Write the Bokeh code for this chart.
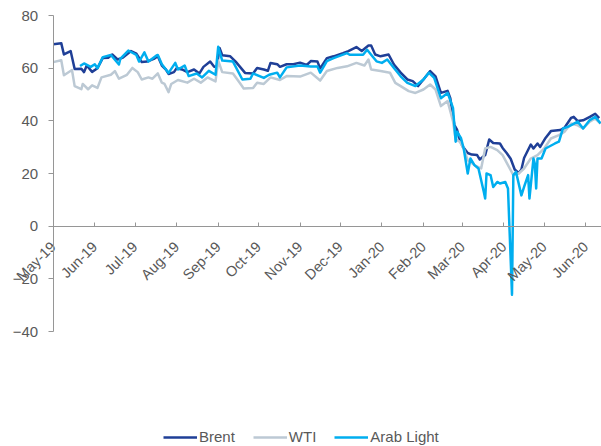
import pandas as pd
from math import pi
from bokeh.plotting import figure
from bokeh.models import (Range1d, FixedTicker, MonthsTicker, DatetimeTickFormatter,
                          Legend, LegendItem, ColumnDataSource)
from bokeh.embed import file_html
from bokeh.resources import INLINE

# --- Crude oil prices, USD/bbl ---
brent_dates = [
    "2019-05-01", "2019-05-07", "2019-05-09", "2019-05-14", "2019-05-17", "2019-05-22",
    "2019-05-24", "2019-05-26", "2019-05-30", "2019-06-03", "2019-06-07", "2019-06-11",
    "2019-06-14", "2019-06-18", "2019-06-22", "2019-06-28", "2019-07-02", "2019-07-06",
    "2019-07-10", "2019-07-15", "2019-07-18", "2019-07-21", "2019-07-24", "2019-07-26",
    "2019-07-30", "2019-08-01", "2019-08-05", "2019-08-09", "2019-08-14", "2019-08-18",
    "2019-08-21", "2019-08-26", "2019-08-29", "2019-08-31", "2019-09-02", "2019-09-04",
    "2019-09-10", "2019-09-14", "2019-09-21", "2019-09-27", "2019-09-30", "2019-10-05",
    "2019-10-08", "2019-10-10", "2019-10-15", "2019-10-17", "2019-10-22", "2019-10-27",
    "2019-11-01", "2019-11-06", "2019-11-09", "2019-11-14", "2019-11-16", "2019-11-21",
    "2019-11-26", "2019-12-03", "2019-12-07", "2019-12-13", "2019-12-17", "2019-12-22",
    "2019-12-24", "2019-12-27", "2019-12-31", "2020-01-06", "2020-01-10", "2020-01-15",
    "2020-01-20", "2020-01-24", "2020-01-28", "2020-02-01", "2020-02-06", "2020-02-10",
    "2020-02-14", "2020-02-19", "2020-02-21", "2020-02-24", "2020-02-26", "2020-02-28",
    "2020-03-01", "2020-03-05", "2020-03-08", "2020-03-12", "2020-03-14", "2020-03-18",
    "2020-03-21", "2020-03-24", "2020-03-29", "2020-03-31", "2020-04-03", "2020-04-06",
    "2020-04-09", "2020-04-12", "2020-04-14", "2020-04-16", "2020-04-21", "2020-04-23",
    "2020-04-26", "2020-04-28", "2020-05-02", "2020-05-06", "2020-05-13", "2020-05-16",
    "2020-05-21", "2020-05-23", "2020-05-26", "2020-05-30", "2020-06-04", "2020-06-08",
    "2020-06-11",
]
brent_values = [
    69.1, 69.5, 65.2, 66.5, 59.7, 59.8,
    58.5, 61.0, 58.6, 60.0, 63.9, 64.0,
    65.2, 63.3, 64.0, 66.5, 65.5, 62.3,
    62.5, 63.5, 64.5, 61.0, 59.5, 57.8,
    58.5, 60.0, 59.5, 58.5, 59.5, 58.0,
    60.5, 62.5, 60.5, 60.5, 67.7, 64.9,
    64.5, 62.5, 58.2, 58.0, 60.1, 59.5,
    59.0, 62.0, 61.5, 60.5, 61.5, 61.5,
    62.1, 61.2, 62.7, 62.5, 59.9, 63.8,
    64.5, 65.7, 66.5, 68.0, 66.5, 68.6,
    68.6, 65.2, 64.5, 65.2, 61.4, 58.3,
    55.7, 55.1, 53.2, 55.7, 58.9, 56.9,
    50.6, 51.4, 48.6, 38.5, 36.7, 32.9,
    30.4, 27.8, 27.2, 27.0, 25.3, 27.0,
    32.9, 31.6, 31.4, 29.7, 27.8, 25.6,
    21.5, 20.2, 21.5, 25.9, 31.0, 29.5,
    31.4, 30.1, 33.5, 36.1, 36.5, 37.3,
    41.1, 41.5, 39.9, 40.2, 41.5, 42.7,
    41.0,
]

wti_dates = [
    "2019-05-01", "2019-05-07", "2019-05-09", "2019-05-15", "2019-05-17", "2019-05-22",
    "2019-05-23", "2019-05-27", "2019-05-30", "2019-06-03", "2019-06-06", "2019-06-13",
    "2019-06-16", "2019-06-19", "2019-06-25", "2019-06-29", "2019-07-03", "2019-07-06",
    "2019-07-11", "2019-07-14", "2019-07-18", "2019-07-21", "2019-07-23", "2019-07-26",
    "2019-07-28", "2019-08-02", "2019-08-09", "2019-08-14", "2019-08-19", "2019-08-24",
    "2019-08-30", "2019-09-01", "2019-09-04", "2019-09-12", "2019-09-17", "2019-09-20",
    "2019-09-27", "2019-09-30", "2019-10-05", "2019-10-10", "2019-10-17", "2019-10-22",
    "2019-11-01", "2019-11-09", "2019-11-16", "2019-11-21", "2019-11-29", "2019-12-06",
    "2019-12-13", "2019-12-19", "2019-12-22", "2019-12-24", "2019-12-31", "2020-01-07",
    "2020-01-11", "2020-01-15", "2020-01-21", "2020-01-26", "2020-02-01", "2020-02-06",
    "2020-02-10", "2020-02-14", "2020-02-19", "2020-02-23", "2020-02-25", "2020-02-28",
    "2020-03-02", "2020-03-05", "2020-03-10", "2020-03-15", "2020-03-18", "2020-03-22",
    "2020-03-27", "2020-03-31", "2020-04-04", "2020-04-08", "2020-04-12", "2020-04-16",
    "2020-04-21", "2020-04-26", "2020-05-01", "2020-05-06", "2020-05-12", "2020-05-16",
    "2020-05-21", "2020-05-26", "2020-05-30", "2020-06-04", "2020-06-08", "2020-06-12",
]
wti_values = [
    62.3, 63.0, 57.3, 59.3, 53.2, 52.0,
    54.0, 52.0, 53.5, 52.5, 56.5, 57.5,
    58.9, 56.0, 57.5, 60.1, 58.5, 55.7,
    56.5, 56.0, 58.0, 54.5, 54.0, 50.9,
    54.0, 55.5, 54.5, 56.0, 54.5, 56.5,
    55.0, 62.9, 58.5, 58.0, 54.5, 52.3,
    52.5, 54.5, 54.0, 56.5, 55.5, 57.0,
    56.8, 58.3, 55.3, 58.9, 60.1, 60.7,
    62.0, 61.0, 63.3, 59.5, 58.9, 58.3,
    54.4, 53.2, 51.3, 50.6, 51.9, 53.8,
    51.9, 45.6, 47.5, 39.9, 32.9, 32.1,
    29.5, 25.0, 23.2, 21.9, 29.5, 30.1,
    28.9, 27.0, 23.2, 19.4, 20.0, 21.9,
    25.7, 27.0, 29.5, 33.3, 34.6, 35.8,
    39.0, 38.3, 37.1, 39.7, 40.9, 39.0,
]

arab_dates = [
    "2019-05-21", "2019-05-24", "2019-05-29", "2019-06-01", "2019-06-03", "2019-06-07",
    "2019-06-13", "2019-06-19", "2019-06-20", "2019-06-26", "2019-07-02", "2019-07-04",
    "2019-07-08", "2019-07-11", "2019-07-17", "2019-07-18", "2019-07-21", "2019-07-26",
    "2019-07-31", "2019-08-02", "2019-08-07", "2019-08-10", "2019-08-16", "2019-08-20",
    "2019-08-25", "2019-08-30", "2019-09-01", "2019-09-04", "2019-09-12", "2019-09-19",
    "2019-09-25", "2019-09-27", "2019-10-05", "2019-10-09", "2019-10-15", "2019-10-17",
    "2019-10-22", "2019-11-01", "2019-11-09", "2019-11-14", "2019-11-16", "2019-11-21",
    "2019-11-26", "2019-12-06", "2019-12-08", "2019-12-18", "2019-12-21", "2019-12-24",
    "2019-12-28", "2020-01-01", "2020-01-05", "2020-01-10", "2020-01-15", "2020-01-20",
    "2020-01-26", "2020-02-01", "2020-02-05", "2020-02-09", "2020-02-14", "2020-02-19",
    "2020-02-23", "2020-02-25", "2020-02-26", "2020-02-29", "2020-03-02", "2020-03-05",
    "2020-03-07", "2020-03-10", "2020-03-13", "2020-03-17", "2020-03-18", "2020-03-19",
    "2020-03-22", "2020-03-24", "2020-03-27", "2020-03-29", "2020-04-02", "2020-04-04",
    "2020-04-07", "2020-04-08", "2020-04-10", "2020-04-14", "2020-04-16", "2020-04-19",
    "2020-04-20", "2020-04-23", "2020-04-24", "2020-04-25", "2020-04-26", "2020-04-29",
    "2020-05-02", "2020-05-09", "2020-05-12", "2020-05-15", "2020-05-19", "2020-05-26",
    "2020-05-30", "2020-06-04", "2020-06-08", "2020-06-12",
]
arab_values = [
    60.8, 61.8, 60.5, 61.5, 60.0, 64.2,
    65.0, 61.4, 63.5, 66.7, 65.0, 62.5,
    66.0, 62.5, 64.8, 65.0, 61.5, 58.2,
    62.0, 59.5, 61.0, 57.0, 58.0, 56.5,
    59.0, 57.5, 68.1, 62.9, 62.5, 55.7,
    56.0, 58.0, 56.3, 57.5, 58.3, 56.5,
    60.3, 61.0, 60.6, 60.6, 58.3, 62.7,
    63.8, 65.7, 65.1, 65.1, 67.0, 65.1,
    62.6, 62.0, 63.3, 60.1, 56.9, 54.4,
    53.2, 55.7, 58.3, 56.3, 48.6, 50.6,
    44.9, 32.1, 35.9, 33.4, 29.5, 20.0,
    25.7, 23.2, 21.9, 13.0, 10.5, 20.0,
    19.4, 14.9, 16.8, 16.2, 16.8, 14.3,
    -26.0, 19.4, 20.6, 11.7, 14.9, 19.4,
    10.5, 25.7, 23.8, 14.3, 25.7, 25.7,
    29.5, 31.4, 32.1, 37.1, 37.8, 39.7,
    37.1, 40.3, 41.5, 39.0,
]

y_ticks = [-40, -20, 0, 20, 40, 60, 80]
series_names = ["Brent", "WTI", "Arab Light"]
series_colors = ["#1F3F97", "#BCC9D4", "#00AEEF"]

TEXT = "#595959"
AXIS = "#969696"
FONT = "Liberation Sans"

axis_start = pd.Timestamp("2019-05-01")
axis_end = pd.Timestamp("2020-06-12 17:00")
to_ms = lambda t: t.value // 10**6

# The frame spans the whole canvas; both axes are pinned inside it
# (y axis at the first date, x axis at zero) and trimmed with bounds.
p = figure(
    width=601, height=446,
    x_axis_type="datetime",
    x_range=Range1d(pd.Timestamp("2019-03-22 17:15"), axis_end),
    y_range=Range1d(-83.67, 85.70),
    output_backend="svg", toolbar_location=None,
    min_border=0,
)
p.outline_line_color = None
p.xgrid.visible = False
p.ygrid.visible = False
p.background_fill_color = "white"
p.border_fill_color = "white"

# y axis
p.yaxis.fixed_location = to_ms(axis_start)
p.yaxis.bounds = (-40, 80)
p.yaxis.ticker = FixedTicker(ticks=y_ticks)
p.yaxis.axis_line_color = AXIS
p.yaxis.major_tick_line_color = AXIS
p.yaxis.major_tick_out = 5
p.yaxis.major_tick_in = 0
p.yaxis.minor_tick_line_color = None
p.yaxis.major_label_standoff = 10
p.yaxis.major_label_text_color = TEXT
p.yaxis.major_label_text_font = FONT
p.yaxis.major_label_text_font_size = "15px"

# x axis sits on the zero line
p.xaxis.fixed_location = 0
p.xaxis.bounds = (to_ms(axis_start), to_ms(axis_end))
p.xaxis.ticker = MonthsTicker(months=list(range(12)))
fmt = "%b-%y"
p.xaxis.formatter = DatetimeTickFormatter(
    days=fmt, months=fmt, years=fmt, hours=fmt, context=None)
p.xaxis.axis_line_color = AXIS
p.xaxis.major_tick_line_color = AXIS
p.xaxis.major_tick_in = 4
p.xaxis.major_tick_out = 0
p.xaxis.minor_tick_line_color = None
p.xaxis.major_label_orientation = pi / 4
p.xaxis.major_label_standoff = 18
p.xaxis.major_label_text_color = TEXT
p.xaxis.major_label_text_font = FONT
p.xaxis.major_label_text_font_size = "14.5px"

items = []
for name, dates, vals, color in zip(
        series_names,
        [brent_dates, wti_dates, arab_dates],
        [brent_values, wti_values, arab_values],
        series_colors):
    src = ColumnDataSource(dict(x=pd.to_datetime(dates), y=vals))
    r = p.line("x", "y", source=src, line_color=color, line_width=2.5,
               line_join="round")
    items.append(LegendItem(label=name, renderers=[r]))

legend = Legend(
    items=items, orientation="horizontal", location=(163, 1),
    border_line_color=None, background_fill_alpha=0,
    glyph_width=34, glyph_height=16, label_standoff=2, spacing=18,
    padding=0, margin=0,
    label_text_font=FONT, label_text_font_size="15px", label_text_color=TEXT,
)
p.add_layout(legend, "center")

open("out.html", "w").write(file_html(p, INLINE))
